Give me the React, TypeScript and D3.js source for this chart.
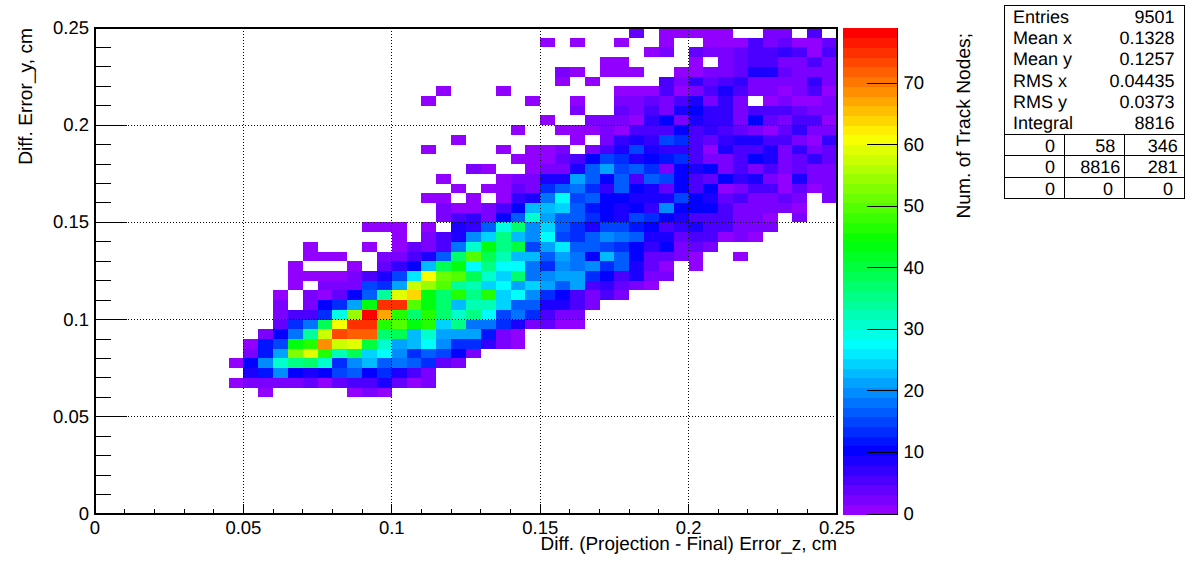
import React, { useEffect, useRef } from 'react';
import * as d3 from 'd3';

const binWidth = 0.005;
const axisMax = 0.25;
const zMax = 79;
const paletteSize = 50;

// first filled x bin of each row, top row (y bin 49) downwards
const topRowBin = 49;
const rowStarts = [
  36, 30, 37, 34, 31, 31, 23, 22, 32, 30, 28, 24, 22, 28, 25, 23, 24, 22, 23, 23,
  18, 20, 14, 14, 13, 13, 13, 12, 12, 12, 12, 11, 10, 10, 9, 10, 9, 11,
];

// entries per bin, 0 = empty cell
const rowCounts = [
  [4, 0, 1, 1, 1, 1, 1, 0, 0, 2, 2, 0, 5],
  [1, 0, 1, 0, 0, 1, 0, 0, 1, 0, 0, 1, 1, 1, 6, 2, 4, 1, 1, 4],
  [1, 2, 0, 4, 2, 2, 4, 6, 5, 7, 6, 1, 5],
  [1, 1, 0, 0, 0, 0, 1, 0, 2, 4, 5, 6, 3, 3, 5, 3],
  [2, 1, 0, 1, 1, 1, 0, 0, 1, 1, 2, 2, 4, 8, 8, 4, 3, 3, 3],
  [1, 0, 1, 0, 0, 0, 0, 5, 3, 7, 4, 6, 7, 2, 2, 2, 2, 7, 2],
  [1, 0, 0, 0, 1, 0, 0, 0, 0, 0, 0, 0, 1, 1, 1, 5, 1, 2, 6, 9, 6, 3, 3, 1, 2, 6, 1],
  [1, 0, 0, 0, 0, 0, 0, 1, 0, 0, 1, 0, 0, 3, 2, 4, 2, 6, 9, 2, 7, 2, 0, 1, 2, 1, 1, 2],
  [3, 0, 0, 4, 2, 6, 2, 8, 10, 7, 7, 2, 6, 6, 6, 4, 2, 2],
  [1, 0, 0, 2, 3, 3, 1, 7, 10, 2, 9, 7, 7, 2, 10, 4, 3, 5, 6, 1],
  [1, 0, 0, 1, 1, 1, 2, 1, 5, 6, 6, 10, 5, 7, 6, 4, 3, 1, 4, 7, 2, 2],
  [1, 0, 0, 0, 0, 0, 0, 0, 1, 0, 2, 7, 9, 7, 15, 13, 5, 4, 7, 9, 8, 5, 6, 3, 1, 7],
  [1, 0, 0, 0, 0, 1, 0, 1, 1, 2, 0, 2, 6, 9, 15, 8, 7, 7, 5, 1, 9, 6, 6, 8, 2, 7, 2, 4],
  [1, 1, 1, 4, 6, 10, 15, 13, 9, 10, 12, 13, 6, 3, 2, 6, 10, 8, 3, 4, 7, 4],
  [3, 1, 0, 0, 1, 2, 3, 8, 17, 21, 15, 17, 13, 2, 10, 8, 10, 3, 6, 3, 5, 2, 4, 2, 2],
  [1, 0, 0, 0, 1, 2, 3, 8, 9, 21, 17, 10, 17, 6, 17, 15, 10, 5, 4, 10, 7, 9, 2, 1, 9, 2, 2],
  [1, 0, 1, 1, 4, 2, 13, 17, 18, 13, 7, 17, 10, 9, 4, 10, 6, 10, 1, 2, 5, 5, 1, 4, 1, 2],
  [1, 1, 0, 1, 0, 1, 7, 8, 18, 28, 15, 17, 10, 10, 9, 9, 9, 15, 10, 9, 4, 6, 2, 3, 4, 2, 0, 2],
  [3, 1, 1, 3, 6, 10, 23, 23, 24, 17, 12, 10, 8, 10, 7, 20, 10, 10, 10, 6, 2, 2, 3, 2, 1],
  [3, 6, 7, 3, 10, 17, 31, 21, 17, 17, 13, 10, 9, 15, 13, 10, 9, 5, 5, 5, 2, 2, 1, 0, 2],
  [1, 1, 1, 0, 1, 0, 9, 7, 17, 29, 37, 20, 24, 17, 13, 9, 15, 15, 12, 10, 6, 7, 9, 6, 6, 2, 2, 3],
  [1, 0, 2, 6, 9, 20, 24, 36, 23, 20, 28, 15, 13, 17, 20, 18, 17, 9, 9, 4, 5, 5, 1, 3, 1],
  [1, 0, 0, 0, 1, 0, 1, 4, 3, 6, 18, 31, 43, 36, 40, 15, 21, 26, 17, 17, 15, 13, 10, 7, 10, 3, 4, 3],
  [1, 1, 1, 0, 0, 3, 3, 6, 8, 17, 37, 50, 39, 32, 23, 23, 17, 21, 18, 10, 23, 17, 10, 4, 4, 2, 1, 0, 0, 1],
  [1, 0, 0, 0, 1, 0, 4, 7, 10, 23, 39, 43, 28, 36, 28, 28, 18, 13, 20, 18, 20, 13, 17, 9, 4, 1, 0, 1],
  [1, 1, 1, 1, 3, 5, 9, 15, 26, 61, 51, 50, 39, 31, 24, 37, 18, 20, 21, 21, 13, 10, 6, 8, 3, 3],
  [1, 0, 3, 3, 3, 15, 13, 21, 58, 55, 50, 34, 32, 24, 28, 21, 24, 21, 17, 21, 6, 7, 4, 2, 1],
  [1, 0, 2, 1, 4, 10, 17, 34, 59, 64, 43, 37, 47, 36, 47, 24, 28, 20, 13, 10, 6, 3, 6, 3],
  [2, 0, 2, 10, 13, 21, 43, 75, 75, 50, 43, 37, 23, 32, 32, 24, 17, 17, 9, 9, 6, 3],
  [2, 6, 6, 13, 29, 55, 78, 67, 47, 37, 47, 37, 31, 36, 28, 15, 18, 13, 6, 2, 2],
  [4, 13, 18, 39, 61, 75, 75, 47, 50, 43, 47, 24, 36, 18, 18, 13, 9, 2, 4, 1, 1],
  [2, 10, 18, 34, 58, 73, 72, 72, 37, 39, 23, 31, 21, 21, 21, 12, 2, 1],
  [1, 12, 15, 43, 47, 69, 58, 59, 40, 31, 21, 23, 28, 20, 13, 13, 7, 2, 1],
  [2, 12, 21, 53, 59, 47, 32, 39, 24, 28, 20, 13, 17, 15, 10, 2],
  [1, 10, 20, 31, 36, 37, 31, 13, 20, 23, 17, 18, 17, 13, 4, 2],
  [8, 12, 20, 10, 9, 10, 15, 17, 10, 13, 9, 6, 3],
  [1, 2, 2, 2, 2, 4, 1, 4, 6, 6, 9, 4, 1, 2],
  [1, 0, 0, 0, 0, 0, 1, 2, 1],
];

const majorTicks = [0, 0.05, 0.1, 0.15, 0.2, 0.25];
const minorTicks = d3.range(0, 26).map((d) => d / 100).filter((d) => d % 0.05 > 1e-9 && 0.05 - d % 0.05 > 1e-9);
const zTicks = [0, 10, 20, 30, 40, 50, 60, 70];

const xTitle = 'Diff. (Projection - Final) Error_z, cm';
const yTitle = 'Diff. Error_y, cm';
const zTitle = 'Num. of Track Nodes;';

const statNames = ['Entries', 'Mean x', 'Mean y', 'RMS x', 'RMS y', 'Integral'];
const statValues = ['9501', '0.1328', '0.1257', '0.04435', '0.0373', '8816'];
const overflowRows = [
  ['0', '58', '346'],
  ['0', '8816', '281'],
  ['0', '0', '0'],
];

const FONT = '"Liberation Sans", Arial, sans-serif';

// ROOT's rainbow palette, violet to red in equal hue steps
const levelColor = (level: number) => d3.hsl(280 - (level + 1) * (280 / paletteSize), 1, 0.5).formatHex();
const countColor = (count: number) => levelColor(Math.min(paletteSize - 1, Math.floor((count / zMax) * paletteSize)));

const App: React.FC = () => {
  const svgRef = useRef<SVGSVGElement | null>(null);

  useEffect(() => {
    if (!svgRef.current) return;
    const svg = d3.select(svgRef.current);
    svg.selectAll('*').remove();

    const plot = { left: 95, right: 837, top: 28, bottom: 514 };
    const x = d3.scaleLinear().domain([0, axisMax]).range([plot.left, plot.right]);
    const y = d3.scaleLinear().domain([0, axisMax]).range([plot.bottom, plot.top]);
    const z = d3.scaleLinear().domain([0, zMax]).range([plot.bottom, plot.top]);

    // histogram cells
    const cells = rowCounts.flatMap((counts, r) =>
      counts.map((count, k) => ({ ix: rowStarts[r] + k, iy: topRowBin - r, count })),
    ).filter((d) => d.count > 0);

    svg.append('g')
      .attr('shape-rendering', 'crispEdges')
      .selectAll('rect')
      .data(cells)
      .enter().append('rect')
      .attr('x', (d) => x(d.ix * binWidth))
      .attr('width', (d) => x((d.ix + 1) * binWidth) - x(d.ix * binWidth))
      .attr('y', (d) => y((d.iy + 1) * binWidth))
      .attr('height', (d) => y(d.iy * binWidth) - y((d.iy + 1) * binWidth))
      .attr('fill', (d) => countColor(d.count));

    // dotted grid goes over the cells
    const grid = svg.append('g')
      .attr('stroke', '#000')
      .attr('stroke-width', 1)
      .attr('stroke-dasharray', '1 2')
      .attr('shape-rendering', 'crispEdges');
    grid.selectAll('.gx')
      .data(majorTicks.slice(1, -1))
      .enter().append('line')
      .attr('x1', (d) => x(d)).attr('x2', (d) => x(d))
      .attr('y1', plot.top).attr('y2', plot.bottom);
    grid.selectAll('.gy')
      .data(majorTicks.slice(1, -1))
      .enter().append('line')
      .attr('y1', (d) => y(d)).attr('y2', (d) => y(d))
      .attr('x1', plot.left).attr('x2', plot.right);

    // axes, ticks point inwards like in ROOT
    const styleAxis = (g: d3.Selection<SVGGElement, unknown, null, undefined>) => {
      g.select('.domain').remove();
      g.selectAll('line').attr('stroke', '#000').attr('shape-rendering', 'crispEdges');
      g.selectAll('text')
        .attr('fill', '#000')
        .attr('font-family', FONT)
        .attr('font-size', 18.5)
        .attr('text-rendering', 'geometricPrecision');
    };
    const fmt = (d: d3.NumberValue) => String(d);

    svg.append('g')
      .attr('transform', `translate(0,${plot.bottom})`)
      .call(d3.axisBottom(x).tickValues(majorTicks).tickFormat(fmt).tickSizeInner(-10).tickSizeOuter(0).tickPadding(7).offset(0))
      .call(styleAxis);
    svg.append('g')
      .attr('transform', `translate(0,${plot.bottom})`)
      .call(d3.axisBottom(x).tickValues(minorTicks).tickFormat(() => '').tickSizeInner(-5).tickSizeOuter(0).offset(0))
      .call(styleAxis);
    svg.append('g')
      .attr('transform', `translate(${plot.left},0)`)
      .call(d3.axisLeft(y).tickValues(majorTicks).tickFormat(fmt).tickSizeInner(-32).tickSizeOuter(0).tickPadding(6).offset(0))
      .call(styleAxis);
    svg.append('g')
      .attr('transform', `translate(${plot.left},0)`)
      .call(d3.axisLeft(y).tickValues(minorTicks).tickFormat(() => '').tickSizeInner(-16).tickSizeOuter(0).offset(0))
      .call(styleAxis);

    // frame
    svg.append('rect')
      .attr('x', plot.left).attr('y', plot.top)
      .attr('width', plot.right - plot.left).attr('height', plot.bottom - 0.5 - plot.top)
      .attr('fill', 'none').attr('stroke', '#000').attr('stroke-width', 2)
      .attr('shape-rendering', 'crispEdges');

    // colour bar
    const bar = { left: 843, right: 897.5 };
    const barStep = (plot.bottom - plot.top) / paletteSize;
    svg.append('g')
      .attr('shape-rendering', 'crispEdges')
      .selectAll('rect')
      .data(d3.range(paletteSize))
      .enter().append('rect')
      .attr('x', bar.left)
      .attr('width', bar.right - bar.left)
      .attr('y', (d) => plot.bottom - (d + 1) * barStep)
      .attr('height', barStep + 0.5)
      .attr('fill', (d) => levelColor(d));
    svg.append('g')
      .attr('transform', `translate(${bar.right},0)`)
      .call(d3.axisRight(z).tickValues(zTicks).tickFormat(fmt).tickSizeInner(-31).tickSizeOuter(0).tickPadding(6).offset(0))
      .call(styleAxis);
    svg.append('line')
      .attr('x1', bar.right).attr('x2', bar.right)
      .attr('y1', plot.top).attr('y2', plot.bottom)
      .attr('stroke', '#000')
      .attr('shape-rendering', 'crispEdges');

    // titles
    const title = (text: string, px: number, py: number, rotate: number, size: number) =>
      svg.append('text')
        .attr('transform', `translate(${px},${py}) rotate(${rotate})`)
        .attr('text-anchor', 'end')
        .attr('font-family', FONT)
        .attr('font-size', size)
        .attr('text-rendering', 'geometricPrecision')
        .attr('fill', '#000')
        .text(text);
    title(xTitle, 837, 550, 0, 18.95);
    title(yTitle, 32, 28, -90, 19.2);
    title(zTitle, 969.5, 33, -90, 19.2);

    // stats box
    const stats = svg.append('g')
      .attr('font-family', FONT)
      .attr('font-size', 18)
      .attr('text-rendering', 'geometricPrecision')
      .attr('fill', '#000');
    const box = { left: 1004.5, right: 1184.5, top: 5.5, bottom: 198 };
    stats.append('rect')
      .attr('x', box.left).attr('y', box.top)
      .attr('width', box.right - box.left).attr('height', box.bottom - box.top)
      .attr('fill', '#fff').attr('stroke', '#000').attr('shape-rendering', 'crispEdges');
    const statY = d3.scalePoint<number>().domain(d3.range(statNames.length)).range([23, 129]);
    stats.selectAll('.name')
      .data(statNames)
      .enter().append('text')
      .attr('x', 1013)
      .attr('y', (_, i) => statY(i) as number)
      .text((d) => d);
    stats.selectAll('.value')
      .data(statValues)
      .enter().append('text')
      .attr('x', 1174.5)
      .attr('y', (_, i) => statY(i) as number)
      .attr('text-anchor', 'end')
      .text((d) => d);

    const rowLines = [134.5, 155.5, 177];
    const colLines = [1064.5, 1124.5];
    const lines = stats.append('g').attr('stroke', '#000').attr('shape-rendering', 'crispEdges');
    rowLines.forEach((ly) => {
      lines.append('line').attr('x1', box.left).attr('x2', box.right).attr('y1', ly).attr('y2', ly);
    });
    colLines.forEach((lx) => {
      lines.append('line').attr('x1', lx).attr('x2', lx).attr('y1', rowLines[0]).attr('y2', box.bottom);
    });
    const cellRight = [1055, 1113, 1173];
    const cellBase = [152, 173, 195];
    overflowRows.forEach((row, r) => {
      row.forEach((label, c) => {
        stats.append('text')
          .attr('x', cellRight[c] + (label.length - 1) * (c === 0 ? 0 : 2.4))
          .attr('y', cellBase[r])
          .attr('text-anchor', 'end')
          .text(label);
      });
    });
  }, []);

  return (
    <svg
      ref={svgRef}
      width={1196}
      height={572}
      style={{ position: 'absolute', left: 0, top: 0, background: '#fff' }}
    />
  );
};

export default App;
